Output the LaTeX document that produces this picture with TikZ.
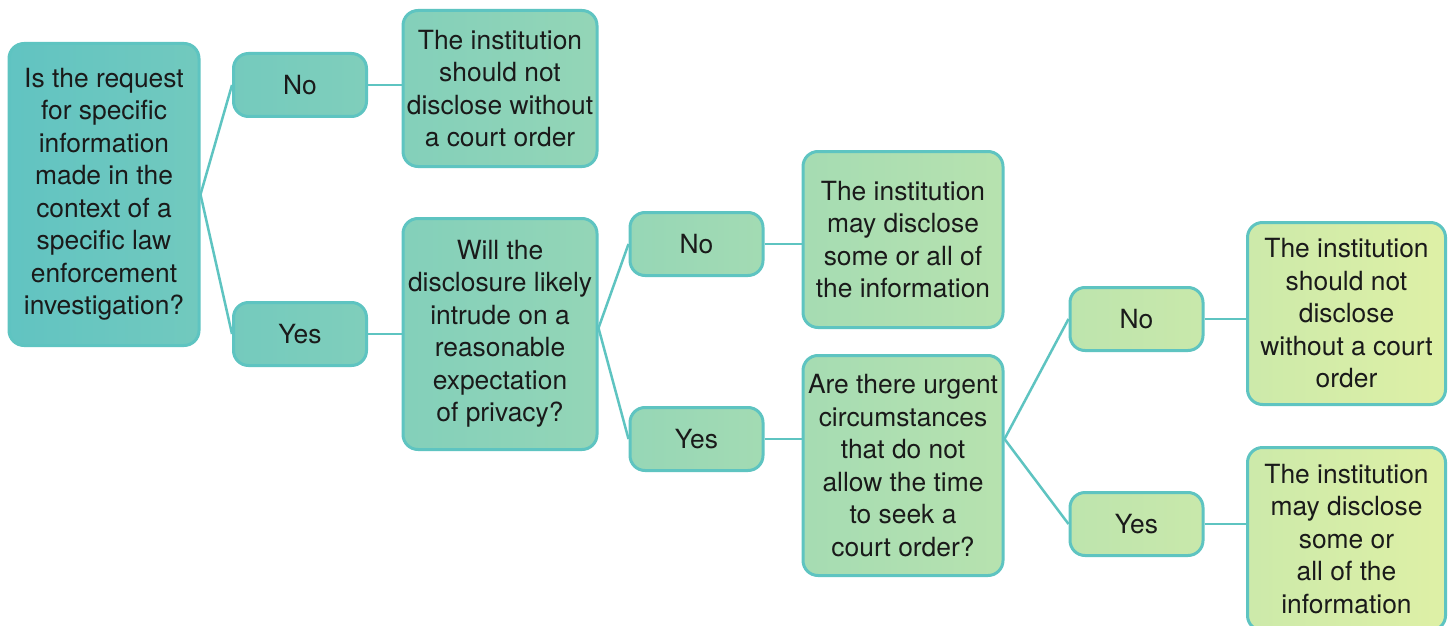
\documentclass[tikz,border=0pt]{standalone}
\usepackage{fontspec}
\setmainfont{TeX Gyre Heros}
\definecolor{teal0}{HTML}{60C3C2}
\definecolor{lime0}{HTML}{DEF0A6}
\definecolor{edge}{HTML}{5EC4C1}
\definecolor{txt}{HTML}{1A1A1A}
\tikzset{
  box/.style={draw=edge, line width=1.5pt, rounded corners=7.5pt, align=center,
    text=txt, font=\fontsize{13.2}{16.25}\selectfont, inner sep=0pt},
  ans/.style={box, minimum width=66.5pt, minimum height=31.5pt},
  grad/.style 2 args={left color=lime0!#1!teal0, right color=lime0!#2!teal0},
  conn/.style={draw=edge, line width=1.25pt}
}
\begin{document}
\begin{tikzpicture}[x=0.5pt,y=-0.5pt]
\useasboundingbox[fill=white] (0,0) rectangle (1450,626);

\node[box, grad={1}{14}, minimum width=95pt, minimum height=151pt] (Q1) at (104,194.5)
  {Is the request\\for specific\\information\\made in the\\context of a\\specific law\\enforcement\\investigation?};
\node[ans, grad={16}{25}] (No1) at (300,85) {No};
\node[ans, grad={16}{25}] (Yes1) at (300,334) {Yes};
\node[box, grad={28}{41}, minimum width=97pt, minimum height=78pt] (R1) at (500,88.5)
  {The institution\\should not\\disclose without\\a court order};
\node[box, grad={28}{41}, minimum width=97pt, minimum height=115.5pt] (Q2) at (500,334)
  {Will the\\disclosure likely\\intrude on a\\reasonable\\expectation\\of privacy?};
\node[ans, grad={43}{53}] (No2) at (696.5,244) {No};
\node[ans, grad={43}{53}] (Yes2) at (696.5,439) {Yes};
\node[box, grad={55}{69}, minimum width=100pt, minimum height=88pt] (R2) at (903,239.5)
  {The institution\\may disclose\\some or all of\\the information};
\node[box, grad={55}{69}, minimum width=100pt, minimum height=110pt] (Q3) at (903,465.5)
  {Are there urgent\\circumstances\\that do not\\allow the time\\to seek a\\court order?};
\node[ans, grad={74}{83}] (No3) at (1136.5,319) {No};
\node[ans, grad={74}{83}] (Yes3) at (1136.5,524) {Yes};
\node[box, grad={86}{100}, minimum width=99pt, minimum height=91pt] (R3) at (1346.5,313.5)
  {The institution\\should not\\disclose\\without a court\\order};
\node[box, grad={86}{100}, minimum width=99pt, minimum height=91.5pt] (R4) at (1346.5,539)
  {The institution\\may disclose\\some or\\all of the\\information};

\coordinate (J2) at (Q2.east |- 0,328);
\coordinate (J3) at (Yes2.east -| Q3.east);

\draw[conn] (No1.west) -- (Q1.east) -- (Yes1.west);
\draw[conn] (No1.east) -- (R1.west |- No1.east);
\draw[conn] (Yes1.east) -- (Q2.west |- Yes1.east);
\draw[conn] (No2.west) -- (J2) -- (Yes2.west);
\draw[conn] (No2.east) -- (R2.west |- No2.east);
\draw[conn] (Yes2.east) -- (Q3.west |- Yes2.east);
\draw[conn] (No3.west) -- (J3) -- (Yes3.west);
\draw[conn] (No3.east) -- (R3.west |- No3.east);
\draw[conn] (Yes3.east) -- (R4.west |- Yes3.east);
\end{tikzpicture}
\end{document}
